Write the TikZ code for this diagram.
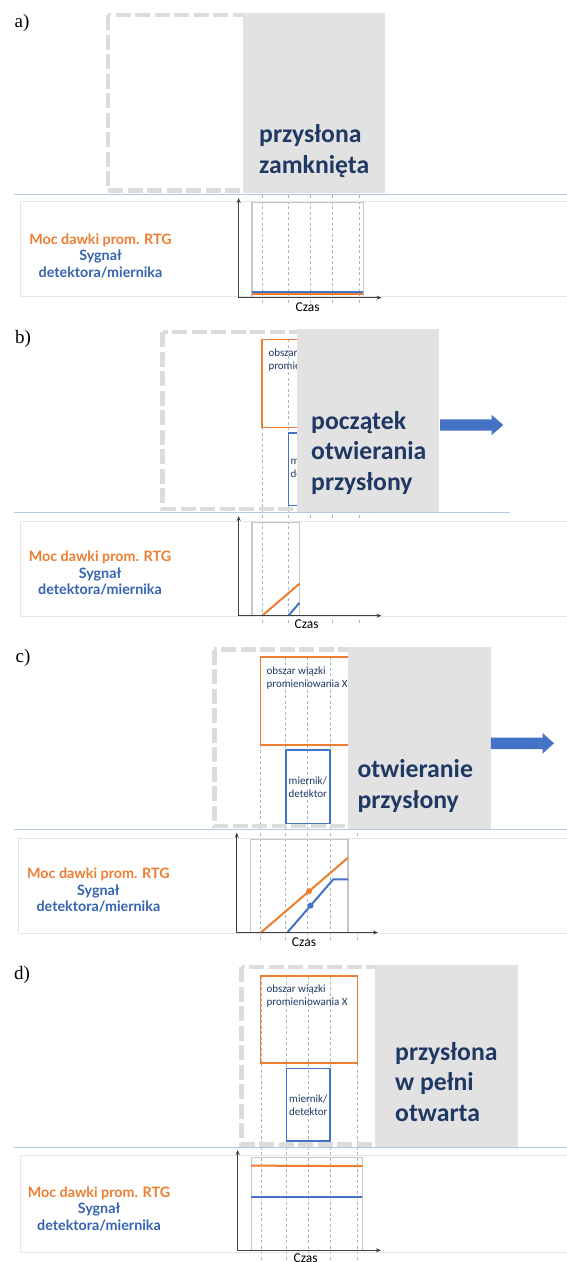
\documentclass[tikz,border=0pt]{standalone}
\usepackage{fontspec}
\setmainfont{Liberation Serif}
\newfontfamily\carlito{Carlito}
\newfontfamily\lato{Lato}
\usetikzlibrary{arrows.meta}
\definecolor{rtgorange}{HTML}{ED7D31}
\definecolor{rtgblue}{HTML}{4472C4}
\definecolor{labelblue}{HTML}{3463B0}
\definecolor{navy}{HTML}{1F3864}
\definecolor{shuttergray}{HTML}{E2E2E2}
\definecolor{dashgray}{HTML}{DCDCDC}
\definecolor{sepblue}{HTML}{B4C7E7}
\definecolor{boxgray}{HTML}{E6E6E6}
\definecolor{framegray}{HTML}{C6C6C6}
\definecolor{tline}{HTML}{A6B4CC}
\definecolor{axisgray}{HTML}{404040}
\begin{document}
\begin{tikzpicture}[x=1pt, y=-1pt, >={Stealth[length=5pt,width=4pt]},
	letter/.style={font=\fontsize{19}{19}\selectfont, inner sep=0},
	timeline/.style={draw=tline, line width=0.6pt, dash pattern=on 3pt off 2.5pt},
	beamframe/.style={draw=dashgray, line width=4.5pt, dash pattern=on 15pt off 4.5pt},
	shutter/.style={fill=shuttergray},
	shuttertext/.style={font=\carlito\bfseries\fontsize{25.7}{30.5}\selectfont, text=navy, align=left, inner sep=0, anchor=base west},
	beambox/.style={draw=rtgorange, line width=1.6pt},
	meterbox/.style={draw=rtgblue, line width=1.6pt},
	boxtext/.style={font=\carlito\fontsize{11}{13.3}\selectfont, text=navy, inner sep=0},
	sepline/.style={draw=sepblue, line width=0.9pt},
	labelbox/.style={draw=boxgray, line width=0.8pt},
	whitecover/.style={fill=white},
	chartframe/.style={draw=framegray, line width=1.4pt},
	axisline/.style={draw=axisgray, line width=1.2pt, <->},
	rtgline/.style={draw=rtgorange, line width=2pt},
	sigline/.style={draw=rtgblue, line width=2pt},
	legendtext/.style={font=\lato\bfseries\fontsize{14.3}{16.5}\selectfont, align=center, inner sep=0},
	timelabel/.style={font=\carlito\fontsize{13.5}{13.5}\selectfont, inner sep=0},
	bigarrow/.style={fill=rtgblue}]
	\useasboundingbox (0,0) rectangle (567,1262);
	\fill[white] (0,0) rectangle (567,1262);

	% a) przyslona zamknieta
	\node[letter] (a-lbl) at (22,23) {a)};
	\foreach \x in {262.3,288.3,310,332.7,359.3}
		\draw[timeline] (\x,195) -- (\x,305);
	\draw[beamframe] (108,15) rectangle (246,190.5);
	\fill[shutter] (243,12.7) rectangle (385,193);
	\node[shuttertext] (a-txt) at (259,173) {przysłona\\zamknięta};
	\draw[sepline] (13.7,194.3) -- (567,194.3);
	\draw[labelbox] (567,201) -- (20.6,201) -- (20.6,296) -- (567,296);
	\draw[chartframe] (252,202.2) rectangle (363.3,297.7);
	\draw[sigline] (252,291.7) -- (363.3,291.7);
	\draw[rtgline] (252,294.3) -- (363.3,294.3);
	\coordinate (a-top) at (238.7,198);
	\coordinate (a-o) at (238.7,297.7);
	\coordinate (a-end) at (381.5,297.7);
	\draw[axisline] (a-top) -- (a-o) -- (a-end);
	\node[timelabel] (a-czas) at (307.6,306.7) {Czas};
	\node[legendtext] (a-leg) at (100.5,256) {\textcolor{rtgorange}{Moc dawki prom. RTG}\\\textcolor{labelblue}{Sygnał}\\\textcolor{labelblue}{detektora/miernika}};

	% b) poczatek otwierania
	\node[letter] (b-lbl) at (23,339) {b)};
	\foreach \x in {262.2,288.3,310,332,359}
		\draw[timeline] (\x,339.3) -- (\x,623);
	\draw[beambox] (262.2,339.3) rectangle (357,427.3);
	\node[boxtext, anchor=base west, align=left] (b-beam) at (268.3,369.7) {obszar wiązki\\promieniowania X};
	\draw[meterbox] (288.3,432.7) rectangle (331,505.3);
	\node[boxtext, anchor=base west, align=left] (b-meter) at (290.4,477.6) {miernik/\\detektor};
	\draw[beamframe] (162.5,332) rectangle (300,509);
	\fill[shutter] (297,329.3) rectangle (439.4,511.7);
	\node[shuttertext] (b-txt) at (311,490) {początek\\otwierania\\przysłony};
	\fill[bigarrow] (440,419.3) -- (491.7,419.3) -- (491.7,415) -- (503.3,425)
		-- (491.7,435) -- (491.7,430.7) -- (440,430.7) -- cycle;
	\draw[sepline] (13.7,512.3) -- (510,512.3);
	\draw[labelbox] (567,521.7) -- (20,521.7) -- (20,616) -- (567,616);
	\fill[whitecover] (300.3,522.4) rectangle (567,615.2);
	\draw[chartframe] (252,522.4) rectangle (299.5,615.7);
	\draw[rtgline] (262.2,615.7) -- (299.5,583.6);
	\draw[sigline] (288.3,615.7) -- (299.5,602.75);
	\coordinate (b-top) at (238.7,516);
	\coordinate (b-o) at (238.7,615.7);
	\coordinate (b-end) at (381.5,615.7);
	\draw[axisline] (b-top) -- (b-o) -- (b-end);
	\node[timelabel] (b-czas) at (306.7,624.3) {Czas};
	\node[legendtext] (b-leg) at (100,573.5) {\textcolor{rtgorange}{Moc dawki prom. RTG}\\\textcolor{labelblue}{Sygnał}\\\textcolor{labelblue}{detektora/miernika}};

	% c) otwieranie
	\node[letter] (c-lbl) at (23,658) {c)};
	\foreach \x in {260.4,285.7,307.4,329.8,357.3}
		\draw[timeline] (\x,656.7) -- (\x,942);
	\draw[beambox] (260.4,656.7) rectangle (357.3,745);
	\node[boxtext, anchor=base west, align=left] (c-beam) at (266.5,687.3) {obszar wiązki\\promieniowania X};
	\draw[meterbox] (285.7,750) rectangle (329.8,823.3);
	\node[boxtext, align=center] (c-meter) at (307.8,787) {miernik/\\detektor};
	\draw[beamframe] (214.3,649.5) rectangle (351,826);
	\fill[shutter] (348,647.3) rectangle (490.8,829);
	\node[shuttertext] (c-txt) at (357.3,808.3) {otwieranie\\przysłony};
	\fill[bigarrow] (490.8,737.6) -- (542.5,737.6) -- (542.5,732.9) -- (554,743.3)
		-- (542.5,753.7) -- (542.5,749) -- (490.8,749) -- cycle;
	\draw[sepline] (13.7,829.3) -- (567,829.3);
	\draw[labelbox] (567,838.7) -- (18.8,838.7) -- (18.8,933.3) -- (567,933.3);
	\fill[whitecover] (348.8,839.4) rectangle (567,932.6);
	\draw[chartframe] (250.5,839.4) rectangle (348,932.5);
	\draw[rtgline] (261,932.5) -- (348,857.7);
	\draw[sigline] (287.3,932.5) -- (333.3,879.3) -- (348,879.3);
	\fill[rtgorange] (309,891.2) circle[radius=3];
	\fill[rtgblue] (310.6,905.55) circle[radius=3];
	\coordinate (c-top) at (236.8,832.7);
	\coordinate (c-o) at (236.8,932.5);
	\coordinate (c-end) at (378,932.5);
	\draw[axisline] (c-top) -- (c-o) -- (c-end);
	\node[timelabel] (c-czas) at (304,941.7) {Czas};
	\node[legendtext] (c-leg) at (98.4,890.5) {\textcolor{rtgorange}{Moc dawki prom. RTG}\\\textcolor{labelblue}{Sygnał}\\\textcolor{labelblue}{detektora/miernika}};

	% d) przyslona w pelni otwarta
	\node[letter] (d-lbl) at (22,975) {d)};
	\foreach \x in {261,286.5,308.3,330.5,357.3}
		\draw[timeline] (\x,976) -- (\x,1262);
	\draw[beambox] (260.4,976) rectangle (357.3,1062.7);
	\node[boxtext, anchor=base west, align=left] (d-beam) at (266.5,1005.3) {obszar wiązki\\promieniowania X};
	\draw[meterbox] (286.4,1068.3) rectangle (330.2,1140.7);
	\node[boxtext, align=center] (d-meter) at (308.3,1105.5) {miernik/\\detektor};
	\draw[beamframe] (241.7,967) rectangle (377.5,1144.7);
	\fill[shutter] (375,965) rectangle (517.7,1146.7);
	\node[shuttertext] (d-txt) at (395,1121) {przysłona\\w pełni\\otwarta};
	\draw[sepline] (13.7,1147.3) -- (567,1147.3);
	\draw[labelbox] (567,1155.5) -- (20,1155.5) -- (20,1252) -- (567,1252);
	\draw[chartframe] (251.2,1157.5) rectangle (362.3,1250.3);
	\draw[rtgline] (251.2,1165.6) -- (362.3,1166.2);
	\draw[sigline] (251.2,1197.3) -- (362.3,1197.3);
	\coordinate (d-top) at (237.7,1150);
	\coordinate (d-o) at (237.7,1250.3);
	\coordinate (d-end) at (381,1250.3);
	\draw[axisline] (d-top) -- (d-o) -- (d-end);
	\node[timelabel] (d-czas) at (305.6,1258.5) {Czas};
	\node[legendtext] (d-leg) at (99,1208.7) {\textcolor{rtgorange}{Moc dawki prom. RTG}\\\textcolor{labelblue}{Sygnał}\\\textcolor{labelblue}{detektora/miernika}};
\end{tikzpicture}
\end{document}
